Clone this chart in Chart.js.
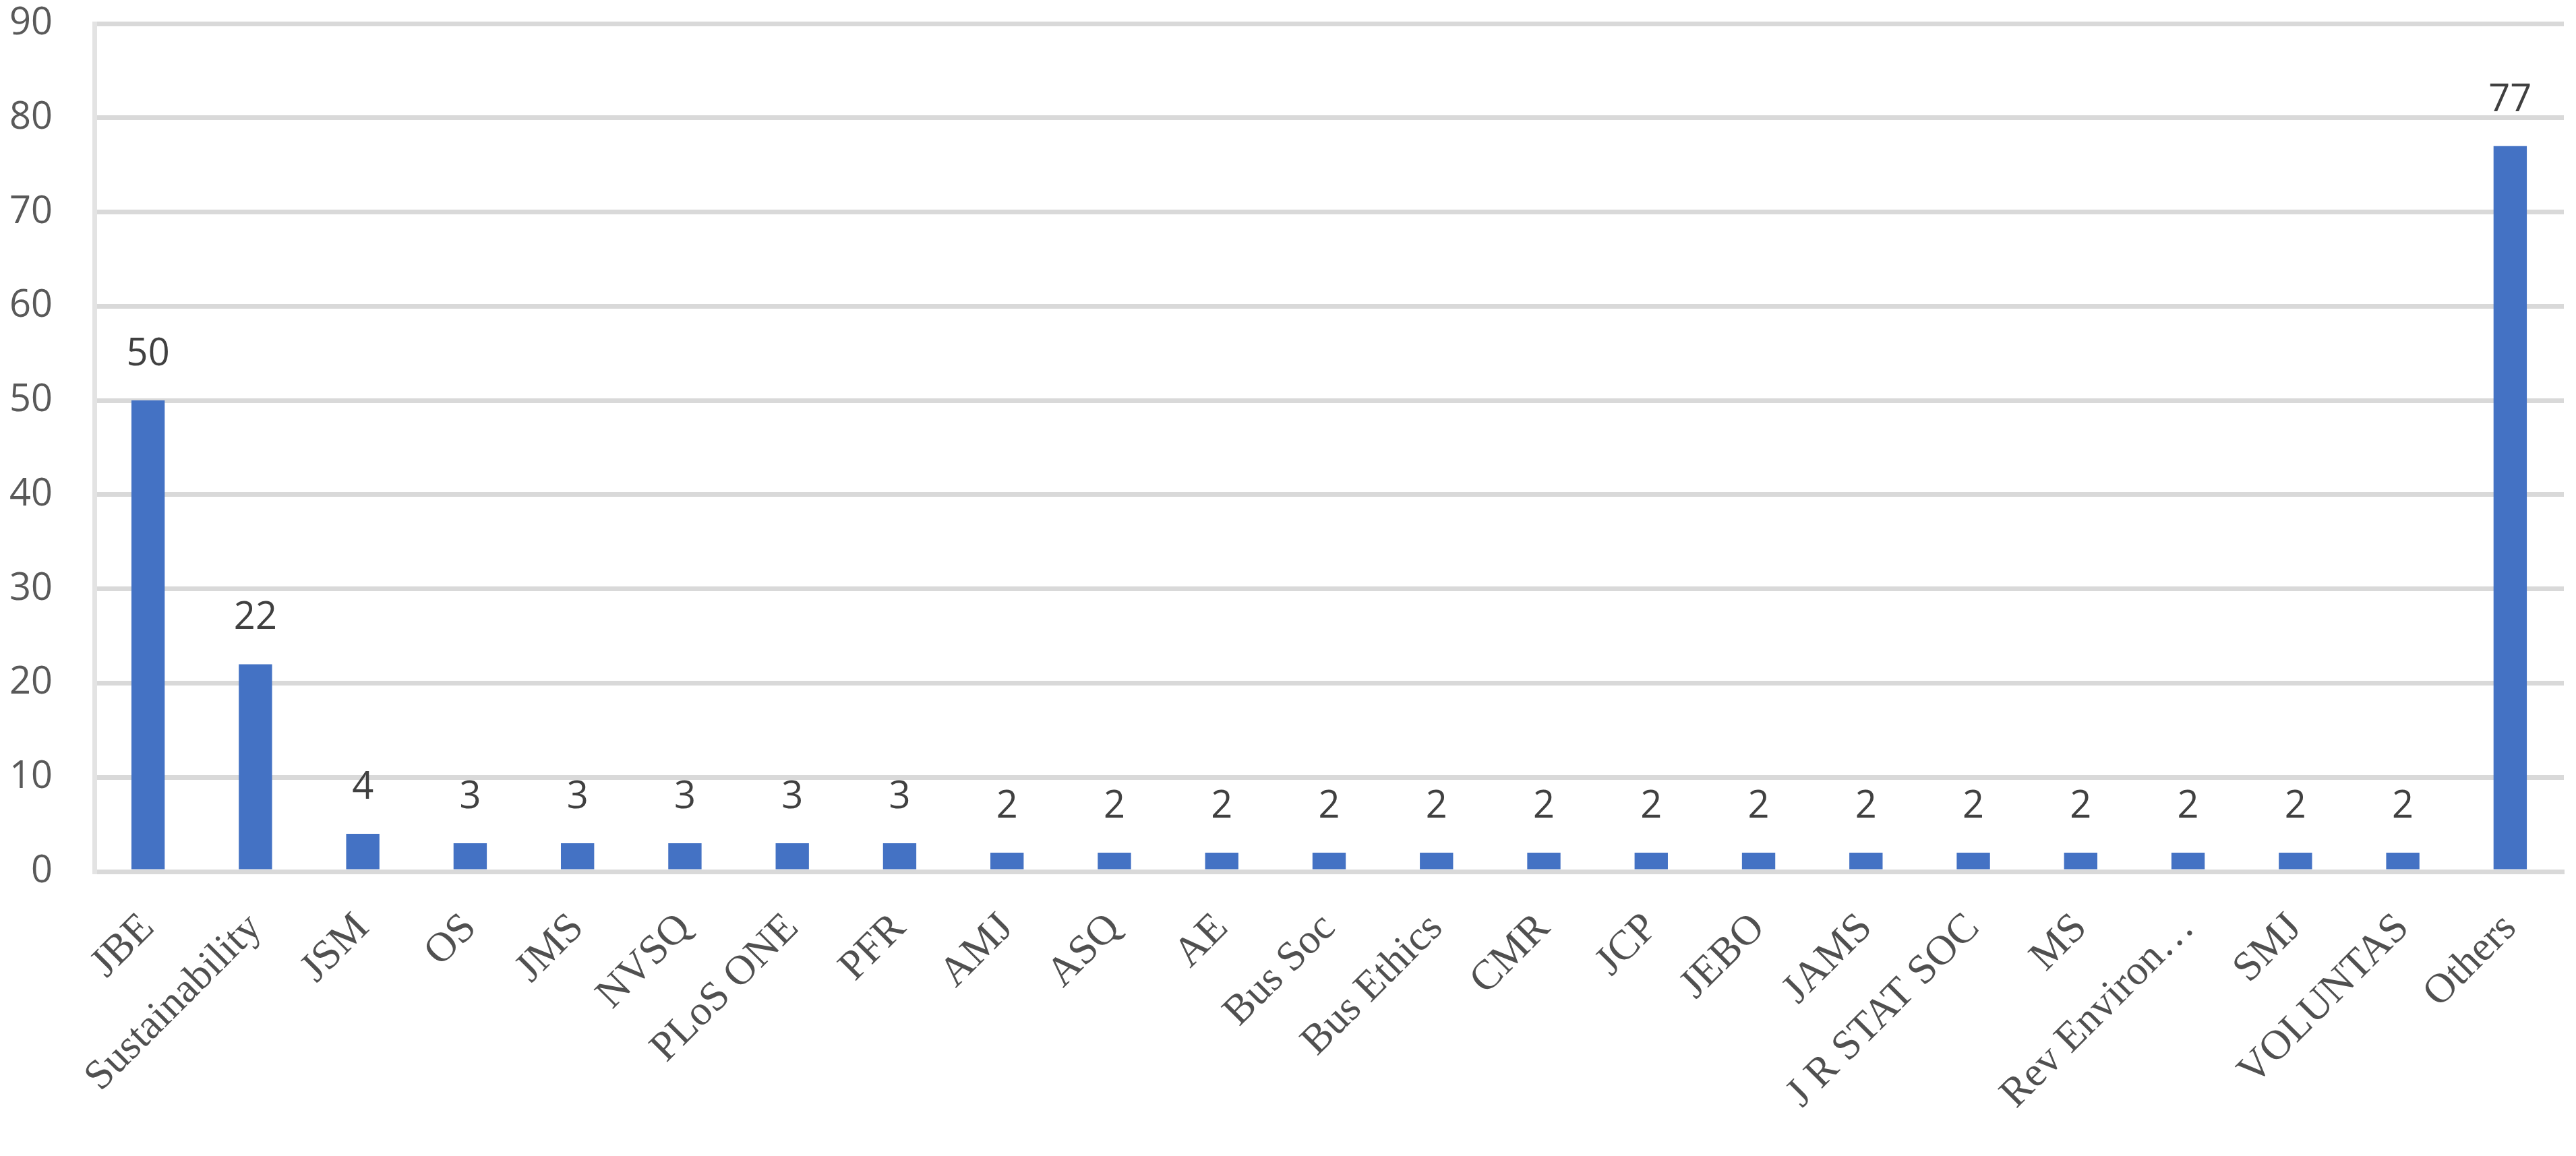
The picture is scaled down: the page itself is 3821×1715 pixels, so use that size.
<!DOCTYPE html>
<html>
<head>
<meta charset="utf-8">
<script src="https://cdn.jsdelivr.net/npm/chart.js@4"></script>
<style>
  html, body { margin: 0; padding: 0; background: #fff; }
  #wrap { width: 3821px; height: 1715px; }
</style>
</head>
<body>
<div id="wrap"><canvas id="chart"></canvas></div>
<script>
// journals and number of papers
var journals = ["JBE", "Sustainability", "JSM", "OS", "JMS", "NVSQ", "PLoS ONE", "PFR",
  "AMJ", "ASQ", "AE", "Bus Soc", "Bus Ethics", "CMR", "JCP", "JEBO", "JAMS",
  "J R STAT SOC", "MS", "Rev Environ…", "SMJ", "VOLUNTAS", "Others"];
var papers = [50, 22, 4, 3, 3, 3, 3, 3, 2, 2, 2, 2, 2, 2, 2, 2, 2, 2, 2, 2, 2, 2, 77];
var yTicks = [0, 10, 20, 30, 40, 50, 60, 70, 80, 90];

// labels over the bars
var barLabels = {
  id: 'barLabels',
  afterDatasetsDraw(chart) {
    var ctx = chart.ctx;
    var meta = chart.getDatasetMeta(0);
    ctx.save();
    ctx.font = '56px "Open Sans"';
    ctx.fillStyle = '#404040';
    ctx.textAlign = 'center';
    ctx.textBaseline = 'bottom';
    meta.data.forEach(function (bar, i) {
      ctx.fillText(String(papers[i]), bar.x, bar.y - 40);
    });
    ctx.restore();
  }
};

var ctx = document.getElementById('chart').getContext('2d');
var chart = new Chart(ctx, {
  type: 'bar',
  data: {
    labels: journals,
    datasets: [{
      data: papers,
      backgroundColor: '#4472c4',
      categoryPercentage: 1,
      barPercentage: 0.31
    }]
  },
  options: {
    responsive: true,
    maintainAspectRatio: false,
    animation: false,
    layout: { padding: { top: 0, right: 18, left: 0, bottom: 0 } },
    plugins: { legend: { display: false }, tooltip: { enabled: false } },
    scales: {
      x: {
        grid: { display: false, drawTicks: false },
        border: { color: '#d9d9d9', width: 7 },
        ticks: {
          color: '#505050',
          font: { family: '"Liberation Serif"', size: 62 },
          minRotation: 45,
          maxRotation: 45,
          autoSkip: false,
          padding: 48
        },
        afterFit: function (s) {
          s.height = 422;
          s.paddingLeft = 0;
          s.paddingRight = 0;
        }
      },
      y: {
        min: 0,
        max: 90,
        afterBuildTicks: function (s) { s.ticks = yTicks.map(function (v) { return { value: v }; }); },
        grid: { color: '#d9d9d9', lineWidth: 7, drawTicks: false },
        border: { color: '#e3e3e3', width: 7 },
        ticks: {
          color: '#595959',
          font: { family: '"Open Sans"', size: 56 },
          padding: 62
        },
        afterFit: function (s) {
          s.width = 140;
          s.paddingTop = 35;
          s.paddingBottom = 0;
        }
      }
    }
  },
  plugins: [barLabels]
});
</script>
</body>
</html>
